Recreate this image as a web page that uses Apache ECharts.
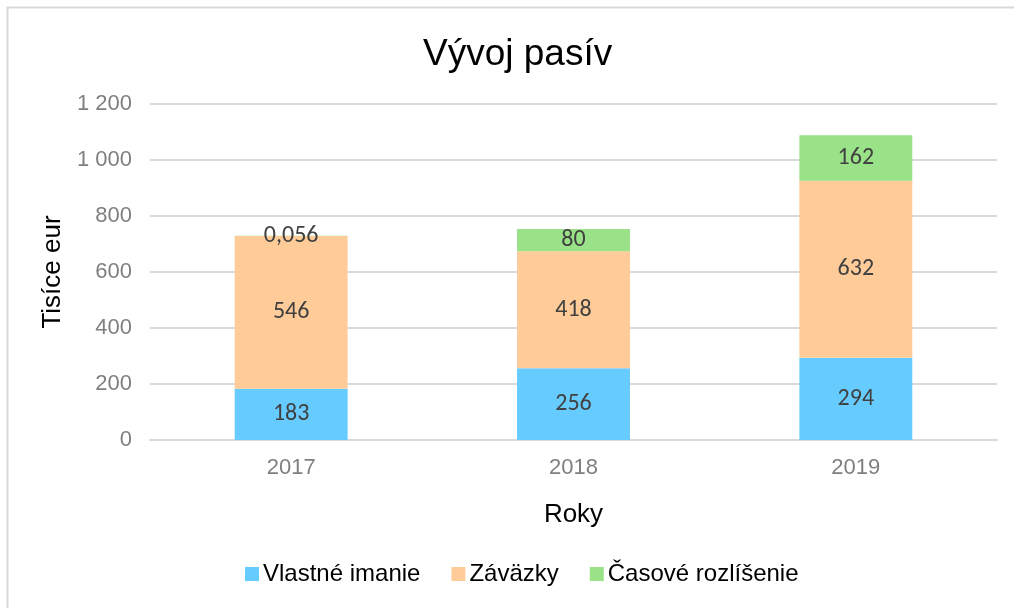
<!DOCTYPE html>
<html>
<head>
<meta charset="utf-8">
<script src="https://cdn.jsdelivr.net/npm/echarts@6/dist/echarts.min.js"></script>
<style>
  html, body { margin: 0; padding: 0; background: #fff; }
  #chart { width: 1014px; height: 608px; }
</style>
</head>
<body>
<div id="chart"></div>
<script>
// roky a hodnoty (tisíce eur)
const years = ["2017", "2018", "2019"];
const vlastneImanie = [183, 256, 294];
const zavazky = [546, 418, 632];
const casoveRozlisenie = [0.056, 80, 162];
const yTicks = [0, 200, 400, 600, 800, 1000, 1200];

const chart = echarts.init(document.getElementById("chart"));

// formát čísla: medzera ako oddeľovač tisícov, čiarka ako desatinná
function skNum(v) {
  const parts = String(v).split(".");
  parts[0] = parts[0].replace(/\B(?=(\d{3})+(?!\d))/g, " ");
  return parts.join(",");
}

const sans = "'Liberation Sans', Arial, sans-serif";

const labelStyle = {
  show: true,
  position: "inside",
  color: "#404040",
  fontSize: 24,
  fontFamily: "Carlito, 'Open Sans', 'DejaVu Sans', sans-serif",
  formatter: (p) => skNum(p.value),
};

function serie(name, data, color) {
  return {
    name: name,
    type: "bar",
    stack: "spolu",
    barWidth: "40%",
    data: data,
    itemStyle: { color: color },
    label: labelStyle,
  };
}

const option = {
  animation: false,
  graphic: [
    {
      type: "rect",
      shape: { x: 7.5, y: 7.5, width: 1030, height: 630 },
      style: { fill: "none", stroke: "#d9d9d9", lineWidth: 2 },
      silent: true,
    },
  ],
  title: {
    text: "Vývoj pasív",
    left: 418,
    top: 31,
    textStyle: {
      fontFamily: sans,
      fontWeight: "normal",
      fontSize: 37,
      color: "#000",
    },
  },
  legend: {
    bottom: 17,
    left: 240,
    itemWidth: 14,
    itemHeight: 14,
    itemGap: 31,
    icon: "rect",
    textStyle: {
      fontFamily: sans,
      fontSize: 24,
      color: "#000",
      padding: [0, 0, 0, -1],
    },
    data: ["Vlastné imanie", "Záväzky", "Časové rozlíšenie"],
  },
  grid: {
    left: 150,
    right: 17,
    top: 104,
    bottom: 168,
  },
  xAxis: {
    type: "category",
    data: years,
    name: "Roky",
    nameLocation: "middle",
    nameGap: 62,
    nameTextStyle: {
      fontFamily: sans,
      fontSize: 26,
      color: "#000",
    },
    axisLine: { lineStyle: { color: "#d9d9d9", width: 2 } },
    axisTick: { show: false },
    axisLabel: {
      margin: 17,
      fontFamily: sans,
      fontSize: 22,
      color: "#7f7f7f",
    },
  },
  yAxis: {
    type: "value",
    min: yTicks[0],
    max: yTicks[yTicks.length - 1],
    interval: 200,
    name: "Tisíce eur",
    nameLocation: "middle",
    nameGap: 79,
    nameTextStyle: {
      fontFamily: sans,
      fontSize: 26,
      color: "#000",
    },
    axisLine: { show: false },
    axisTick: { show: false },
    splitLine: { lineStyle: { color: "#d9d9d9", width: 2 } },
    axisLabel: {
      margin: 18,
      fontFamily: sans,
      fontSize: 22,
      color: "#7f7f7f",
      formatter: (v) => skNum(v),
    },
  },
  series: [
    serie("Vlastné imanie", vlastneImanie, "#66ccff"),
    serie("Záväzky", zavazky, "#ffcc99"),
    serie("Časové rozlíšenie", casoveRozlisenie, "#99e287"),
  ],
};

chart.setOption(option);
</script>
</body>
</html>
